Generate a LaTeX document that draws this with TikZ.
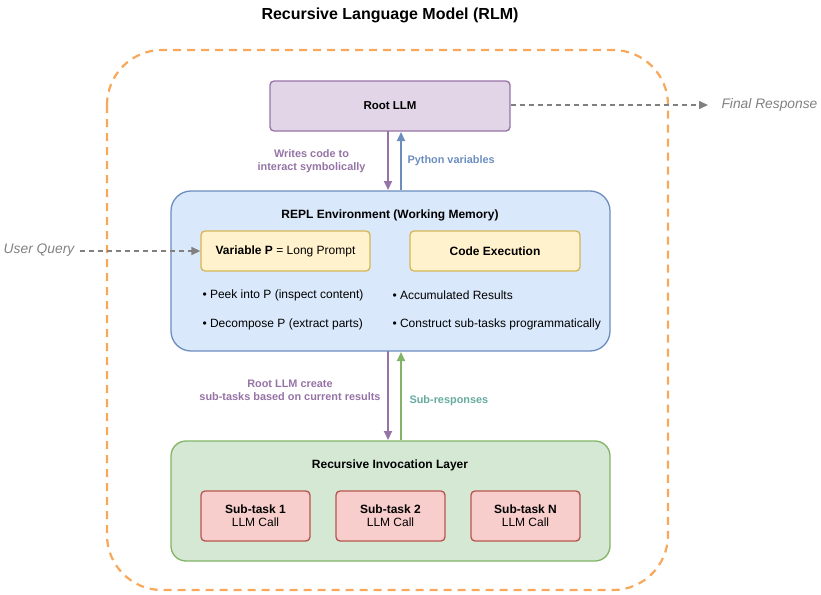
\documentclass[tikz,border=0pt]{standalone}
\usepackage{fontspec}
\setmainfont{Liberation Sans}
\usetikzlibrary{arrows.meta}
\definecolor{orng}{HTML}{F7A85A}
\definecolor{pfill}{HTML}{E1D5E7}\definecolor{pdraw}{HTML}{9673A6}
\definecolor{bfill}{HTML}{DAE8FC}\definecolor{bdraw}{HTML}{6C8EBF}
\definecolor{yfill}{HTML}{FFF2CC}\definecolor{ydraw}{HTML}{D6B656}
\definecolor{gfill}{HTML}{D5E8D4}\definecolor{gdraw}{HTML}{82B366}
\definecolor{rfill}{HTML}{F8CECC}\definecolor{rdraw}{HTML}{B85450}
\definecolor{gtxt}{HTML}{67AB9F}
\definecolor{gry}{HTML}{808080}
\tikzset{
 box/.style={draw,line width=1.3pt,rounded corners=#1,inner sep=0pt},
 lbl/.style={font=\fontsize{10.9}{13}\selectfont\bfseries,align=center},
 arr/.style={line width=2pt,-{Triangle[length=9pt,width=8pt]}},
 darr/.style={line width=1.5pt,gry,dash pattern=on 5pt off 4pt,-{Triangle[length=9pt,width=8pt]}},
 txt/.style={font=\fontsize{12}{14}\selectfont},
}
\begin{document}
\begin{tikzpicture}[x=1pt,y=-1pt]
\useasboundingbox (0,0) rectangle (821,594);
\node[font=\fontsize{16}{18}\selectfont\bfseries] (title) at (390,15) {Recursive Language Model (RLM)};
\draw[orng,line width=2.2pt,dash pattern=on 8pt off 6pt,rounded corners=55] (107,50) rectangle (668,590);
\node[box=4,fill=pfill,draw=pdraw,minimum width=240,minimum height=50,font=\fontsize{11.5}{13}\selectfont\bfseries] (root) at (390,106) {Root LLM};
\node[box=20,fill=bfill,draw=bdraw,minimum width=439,minimum height=160] (repl) at (390.5,271) {};
\node[font=\fontsize{12}{14}\selectfont\bfseries] (replt) at (390,215) {REPL Environment (Working Memory)};
\node[box=4,fill=yfill,draw=ydraw,minimum width=169,minimum height=40,txt] (varp) at (285.5,251) {\textbf{Variable P} = Long Prompt};
\node[box=4,fill=yfill,draw=ydraw,minimum width=170,minimum height=40,txt,font=\fontsize{12}{14}\selectfont\bfseries] (code) at (495,251) {Code Execution};
\node[txt,anchor=west] (b1) at (199,295) {• Peek into P (inspect content)};
\node[txt,anchor=west] (b2) at (199,324) {• Decompose P (extract parts)};
\node[txt,anchor=west] (b3) at (389,295) {• Accumulated Results};
\node[txt,anchor=west] (b4) at (389,324) {• Construct sub-tasks programmatically};
\node[box=15,fill=gfill,draw=gdraw,minimum width=439,minimum height=120] (rec) at (390.5,501) {};
\node[font=\fontsize{12}{14}\selectfont\bfseries] (rect) at (390,465) {Recursive Invocation Layer};
\foreach \n/\x/\l in {s1/255.5/1,s2/390.5/2,sn/525.5/N}
  \node[box=4,fill=rfill,draw=rdraw,minimum width=109,minimum height=50,txt,align=center] (\n) at (\x,516) {\textbf{Sub-task \l}\\[-1pt]LLM Call};
\coordinate (fr) at (708,105);
\node[font=\fontsize{13.8}{16}\selectfont\itshape,gry,anchor=west] (final) at (718,105) {Final Response};
\draw[darr] (root.east |- fr) -- (fr);
\node[font=\fontsize{13.8}{16}\selectfont\itshape,gry] (uq) at (39,250) {User Query};
\draw[darr] (80,251) -- (varp.west);
\draw[arr,pdraw] (388,131) -- (388,190);
\draw[arr,bdraw] (401,190) -- (401,132);
\node[lbl,pdraw,anchor=east] (l1) at (369,161) {Writes code to\\interact symbolically};
\node[lbl,bdraw,anchor=west] (l2) at (404,161) {Python variables};
\draw[arr,pdraw] (388,351) -- (388,440);
\draw[arr,gdraw] (401,440) -- (401,352);
\node[lbl,pdraw] (l3) at (290,390) {Root LLM create\\sub-tasks based on current results};
\node[lbl,gtxt,anchor=west] (l4) at (406,401) {Sub-responses};
\end{tikzpicture}
\end{document}
